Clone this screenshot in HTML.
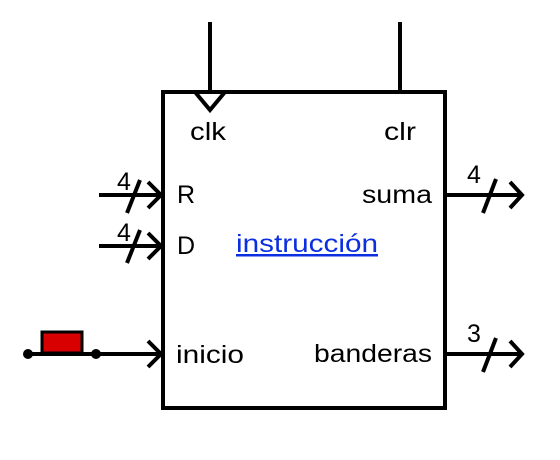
<!DOCTYPE html>
<html><head><meta charset="utf-8"><style>
html,body{margin:0;padding:0;background:#fff;}
svg{display:block;}
text{font-family:"Liberation Sans",sans-serif;font-size:25px;fill:#000;}
</style></head><body>
<svg width="560" height="460" viewBox="0 0 560 460" xmlns="http://www.w3.org/2000/svg">
<g stroke="#000" stroke-width="4" fill="none">
<rect x="163" y="92" width="282" height="316"/>
<line x1="210" y1="22" x2="210" y2="92"/>
<line x1="400" y1="22" x2="400" y2="92"/>
<polyline points="195,92 210,110 225,92"/>
<line x1="99" y1="195" x2="161" y2="195"/>
<polyline points="148,182 161,195 148,208"/>
<line x1="140" y1="180" x2="127" y2="213"/>
<line x1="99" y1="246" x2="161" y2="246"/>
<polyline points="148,233 161,246 148,259"/>
<line x1="140" y1="230" x2="127" y2="263"/>
<line x1="28" y1="354" x2="161" y2="354"/>
<polyline points="148,341 161,354 148,367"/>
<line x1="445" y1="195" x2="522" y2="195"/>
<polyline points="510,182 522,195 510,208"/>
<line x1="496" y1="179" x2="483" y2="213"/>
<line x1="445" y1="354" x2="522" y2="354"/>
<polyline points="510,341 522,354 510,367"/>
<line x1="496" y1="338" x2="483" y2="372"/>
</g>
<rect x="42" y="332" width="40" height="21" fill="#d80000" stroke="#000" stroke-width="3"/>
<circle cx="28" cy="354" r="5" fill="#000"/>
<circle cx="96" cy="354" r="5" fill="#000"/>
<text x="190" y="140" textLength="36" lengthAdjust="spacingAndGlyphs">clk</text>
<text x="384" y="140" textLength="32" lengthAdjust="spacingAndGlyphs">clr</text>
<text x="177" y="203">R</text>
<text x="177" y="254">D</text>
<text x="362" y="203" textLength="70" lengthAdjust="spacingAndGlyphs">suma</text>
<text x="176" y="363" textLength="68" lengthAdjust="spacingAndGlyphs">inicio</text>
<text x="314" y="362" textLength="118" lengthAdjust="spacingAndGlyphs">banderas</text>
<text x="236" y="252" textLength="142" lengthAdjust="spacingAndGlyphs" style="fill:#0b2fe0" text-decoration="underline">instrucción</text>
<text x="117" y="190">4</text>
<text x="117" y="241">4</text>
<text x="467" y="183">4</text>
<text x="467" y="342">3</text>
</svg>
</body></html>
